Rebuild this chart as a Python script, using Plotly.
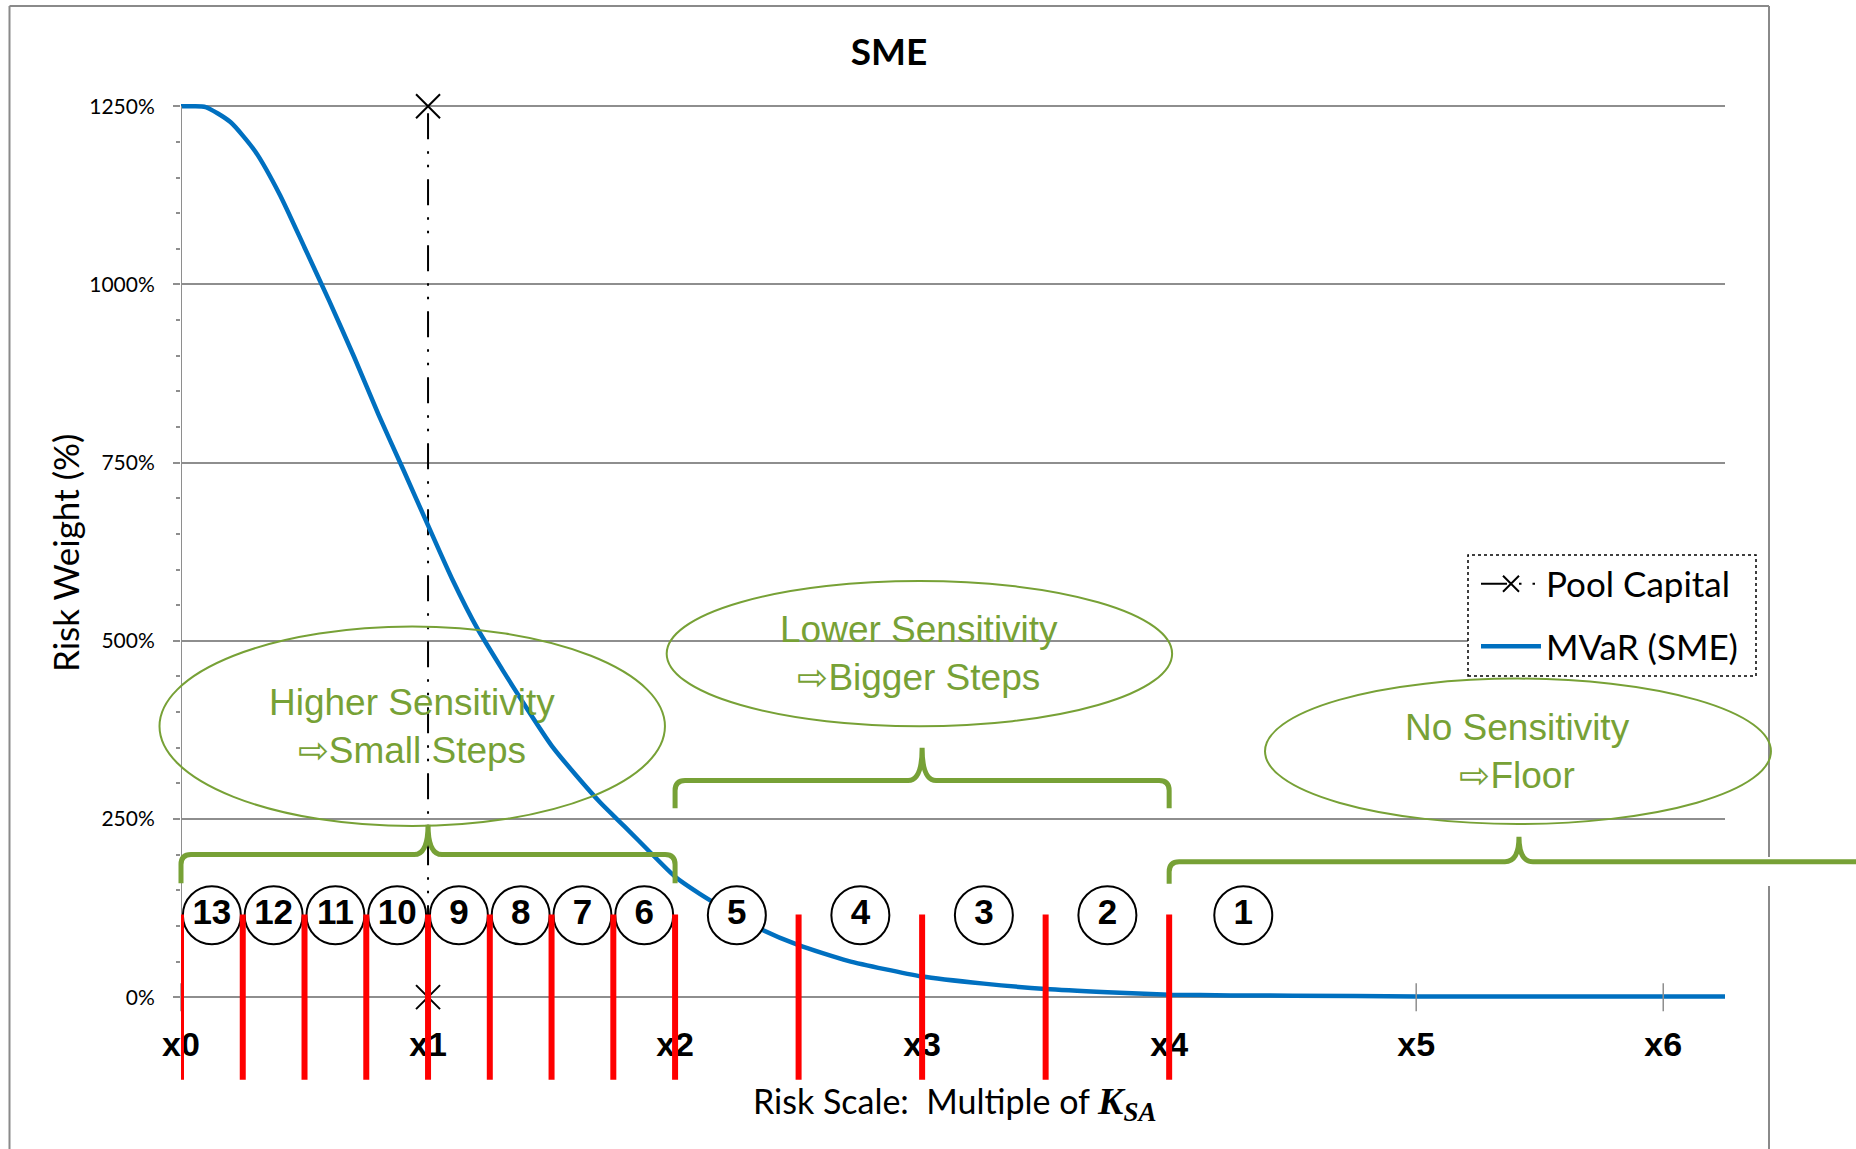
import plotly.graph_objects as go

# ---------------- data ----------------
# Risk scale expressed as a multiple of K_SA, and the SME MVaR risk weight (%)
risk_multiple = [0, 0.05, 0.1, 0.2, 0.3, 0.4, 0.5, 0.6, 0.7, 0.8, 0.9, 1.0, 1.1, 1.2,
                 1.3, 1.4, 1.5, 1.6, 1.7, 1.8, 1.9, 2.0, 2.1, 2.2, 2.35, 2.5, 2.7,
                 3.0, 3.25, 3.5, 3.75, 4.0, 4.25, 4.5, 5.0, 5.5, 6.0, 6.25]
mvar_sme = [1250, 1250, 1249, 1228, 1187, 1126, 1052, 977, 899, 817, 740, 662, 585, 517,
            460, 405, 353, 311, 272, 238, 203, 169, 145, 124, 95, 73, 51,
            29, 19, 11.5, 7, 3.5, 2.5, 2, 1, 1, 1, 1]

# Pool capital (K_SA = x1) drawn as a vertical reference
pool_capital_x = [1, 1]
pool_capital_y = [0, 1250]

# Tranche step boundaries and tranche numbers
step_bounds = [0, 0.25, 0.5, 0.75, 1, 1.25, 1.5, 1.75, 2, 2.5, 3, 3.5, 4]
tranche_labels = ["13", "12", "11", "10", "9", "8", "7", "6", "5", "4", "3", "2", "1"]
tranche_pos = [0.125, 0.375, 0.625, 0.875, 1.125, 1.375, 1.625, 1.875,
               2.25, 2.75, 3.25, 3.75, 4.3]
tranche_level = 115

# Multiples of K_SA shown under the axis
multiple_ticks = [0, 1, 2, 3, 4, 5, 6]
multiple_labels = ["x0", "x1", "x2", "x3", "x4", "x5", "x6"]

# Risk weight axis ticks
rw_ticks = [0, 250, 500, 750, 1000, 1250]
rw_tick_text = ["0%", "250%", "500%", "750%", "1000%", "1250%"]
rw_minor = [v for v in range(50, 1250, 50) if v % 250 != 0]

# Sensitivity regions: text, ellipse centre / half sizes, brace span and levels
region_text = ["Higher Sensitivity<br>⇨Small Steps",
               "Lower Sensitivity<br>⇨Bigger Steps",
               "No Sensitivity<br>⇨Floor"]
region_cx = [0.936, 2.989, 5.412]
region_cy = [380, 482, 345]
region_hw = [1.023, 1.023, 1.024]
region_hh = [140, 102, 102]
brace_left = [0, 2, 4]
brace_right = [2, 4, 7.2]
brace_mid = [1, 3, 5.416]
brace_bar = [200, 304, 190]
brace_end = [160, 265, 159]
brace_peak = [242, 350, 225]

# ---------------- layout geometry ----------------
FIG_W, FIG_H = 1856, 1149
M_L, M_R, M_T, M_B = 181, 131, 60, 20
X_RANGE = [0, 6.25]
Y_RANGE = [-185, 1315]
PLOT_W = FIG_W - M_L - M_R
PLOT_H = FIG_H - M_T - M_B

GREEN = "#77A136"
GRID = "#8e8e8e"
BLUE = "#0070C0"


def xp(v):
    return (v - X_RANGE[0]) / (X_RANGE[1] - X_RANGE[0])


def yp(v):
    return (v - Y_RANGE[0]) / (Y_RANGE[1] - Y_RANGE[0])


def px_x(p):
    return (p - M_L) / PLOT_W


def px_y(p):
    return (FIG_H - M_B - p) / PLOT_H


def brace_path(xl, xr, xm, yb, ye, ypk, open_right=False):
    rx, ry = 10 / PLOT_W, 10 / PLOT_H
    wx = 14 / PLOT_W
    L, R, M = xp(xl), xp(xr), xp(xm)
    B, E, P = yp(yb), yp(ye), yp(ypk)
    d = (f"M{L},{E} L{L},{B - ry} Q{L},{B} {L + rx},{B} "
         f"L{M - wx},{B} Q{M},{B} {M},{P} Q{M},{B} {M + wx},{B} ")
    if open_right:
        d += f"L{R},{B}"
    else:
        d += f"L{R - rx},{B} Q{R},{B} {R},{B - ry} L{R},{E}"
    return d


fig = go.Figure()

# Pool capital marker line
fig.add_trace(go.Scatter(
    x=pool_capital_x, y=pool_capital_y, mode="lines+markers", name="Pool Capital",
    legendgroup="pool",
    line=dict(color="black", width=2, dash="26px,12px,2.5px,11px,2.5px,12px"),
    marker=dict(symbol="x-thin", size=24, color="black", line=dict(color="black", width=2)),
    cliponaxis=False, hoverinfo="skip"))

# MVaR curve
fig.add_trace(go.Scatter(
    x=risk_multiple, y=mvar_sme, mode="lines", name="MVaR (SME)", legendgroup="mvar",
    line=dict(color=BLUE, width=4.5, shape="spline", smoothing=0.6),
    hoverinfo="skip"))

# Axis tick marks crossing the 0% line
fig.add_trace(go.Scatter(
    x=multiple_ticks, y=[0] * len(multiple_ticks), mode="markers", showlegend=False,
    marker=dict(symbol="line-ns", size=20, color=GRID, line=dict(color=GRID, width=1.5)),
    cliponaxis=False, hoverinfo="skip"))

# Tranche number circles
fig.add_trace(go.Scatter(
    x=tranche_pos, y=[tranche_level] * len(tranche_pos), mode="markers+text",
    text=tranche_labels, textposition="middle center", showlegend=False,
    marker=dict(symbol="circle", size=58, color="white", line=dict(color="black", width=2)),
    textfont=dict(family="Liberation Sans", size=35, color="black", weight="bold"),
    cliponaxis=False, hoverinfo="skip"))

# Multiple labels below the axis
fig.add_trace(go.Scatter(
    x=multiple_ticks, y=[-70] * len(multiple_ticks), mode="text", text=multiple_labels,
    textposition="middle center", showlegend=False,
    textfont=dict(family="Liberation Sans", size=34, color="black", weight="bold"),
    cliponaxis=False, hoverinfo="skip"))

shapes = []

# Chart border (right side interrupted where the floor brace passes)
border = dict(type="line", xref="paper", yref="paper", line=dict(color="#8a8a8a", width=2), layer="above")
shapes.append(dict(border, x0=px_x(9.5), x1=px_x(9.5), y0=px_y(6), y1=px_y(1160)))
shapes.append(dict(border, x0=px_x(9.5), x1=px_x(1769), y0=px_y(6), y1=px_y(6)))
shapes.append(dict(border, x0=px_x(1769), x1=px_x(1769), y0=px_y(6), y1=px_y(857)))
shapes.append(dict(border, x0=px_x(1769), x1=px_x(1769), y0=px_y(886), y1=px_y(1160)))

# Risk weight axis line (0% to 1250%)
shapes.append(dict(type="line", xref="x", yref="y", x0=0, x1=0, y0=0, y1=1250,
                   line=dict(color=GRID, width=2), layer="above"))

# Tranche step boundaries
for b in step_bounds:
    shapes.append(dict(type="line", xref="x", yref="y", x0=b, x1=b, y0=-116, y1=116,
                       line=dict(color="#FF0000", width=6), layer="above"))

# Sensitivity ellipses and braces
for i in range(len(region_text)):
    shapes.append(dict(type="circle", xref="paper", yref="paper",
                       x0=xp(region_cx[i] - region_hw[i]), x1=xp(region_cx[i] + region_hw[i]),
                       y0=yp(region_cy[i] - region_hh[i]), y1=yp(region_cy[i] + region_hh[i]),
                       line=dict(color=GREEN, width=2), layer="above"))
    shapes.append(dict(type="path", xref="paper", yref="paper",
                       path=brace_path(brace_left[i], brace_right[i], brace_mid[i],
                                       brace_bar[i], brace_end[i], brace_peak[i],
                                       open_right=(i == len(region_text) - 1)),
                       line=dict(color=GREEN, width=5), layer="above"))

# Legend frame
shapes.append(dict(type="rect", xref="paper", yref="paper",
                   x0=px_x(1468), x1=px_x(1756), y0=px_y(676), y1=px_y(555),
                   fillcolor="white", line=dict(color="black", width=1.5, dash="dot"),
                   layer="above"))

annotations = []
for i in range(len(region_text)):
    annotations.append(dict(xref="paper", yref="paper", x=xp(region_cx[i]), y=yp(region_cy[i]),
                            text=region_text[i], showarrow=False, xanchor="center",
                            yanchor="middle", align="center",
                            font=dict(family="Liberation Sans", size=37, color=GREEN)))

annotations.append(dict(
    xref="paper", yref="paper", x=px_x(955), y=px_y(1103), showarrow=False,
    xanchor="center", yanchor="middle",
    text=("Risk Scale:\u00a0 Multiple of "
          "<span style='font-family:Liberation Serif;font-size:38px'><b><i>K</i></b></span>"
          "<sub><span style='font-family:Liberation Serif;font-size:27px'><b><i>SA</i></b></span></sub>"),
    font=dict(family="Lato", size=34, color="black")))

annotations.append(dict(
    xref="paper", yref="paper", x=px_x(65), y=px_y(553), showarrow=False,
    textangle=-90, xanchor="center", yanchor="middle", text="Risk Weight (%)",
    font=dict(family="Lato", size=35, color="black")))

fig.update_layout(
    width=FIG_W, height=FIG_H,
    margin=dict(l=M_L, r=M_R, t=M_T, b=M_B),
    paper_bgcolor="white", plot_bgcolor="white",
    title=dict(text="SME", x=889 / FIG_W, y=1 - 52 / FIG_H, xref="container", yref="container",
               xanchor="center", yanchor="middle",
               font=dict(family="Lato", size=37, color="black", weight="bold")),
    xaxis=dict(range=X_RANGE, visible=False, fixedrange=True),
    yaxis=dict(range=Y_RANGE, tickmode="array", tickvals=rw_ticks, ticktext=rw_tick_text,
               showgrid=True, gridcolor=GRID, gridwidth=2, zeroline=False, showline=False,
               ticks="outside", ticklen=7, tickwidth=1.5, tickcolor=GRID,
               ticklabelstandoff=14,
               tickfont=dict(family="Lato", size=21, color="black"),
               minor=dict(tickmode="array", tickvals=rw_minor, ticks="outside",
                          ticklen=4, tickwidth=1.5, tickcolor=GRID, showgrid=False),
               fixedrange=True),
    showlegend=True,
    legend=dict(x=px_x(1476), y=px_y(554.5), xanchor="left", yanchor="top",
                bgcolor="rgba(0,0,0,0)", borderwidth=0, traceorder="grouped",
                tracegroupgap=14, itemwidth=60,
                font=dict(family="Lato", size=35, color="black")),
    shapes=shapes,
    annotations=annotations,
)

fig.write_html("out.html")
